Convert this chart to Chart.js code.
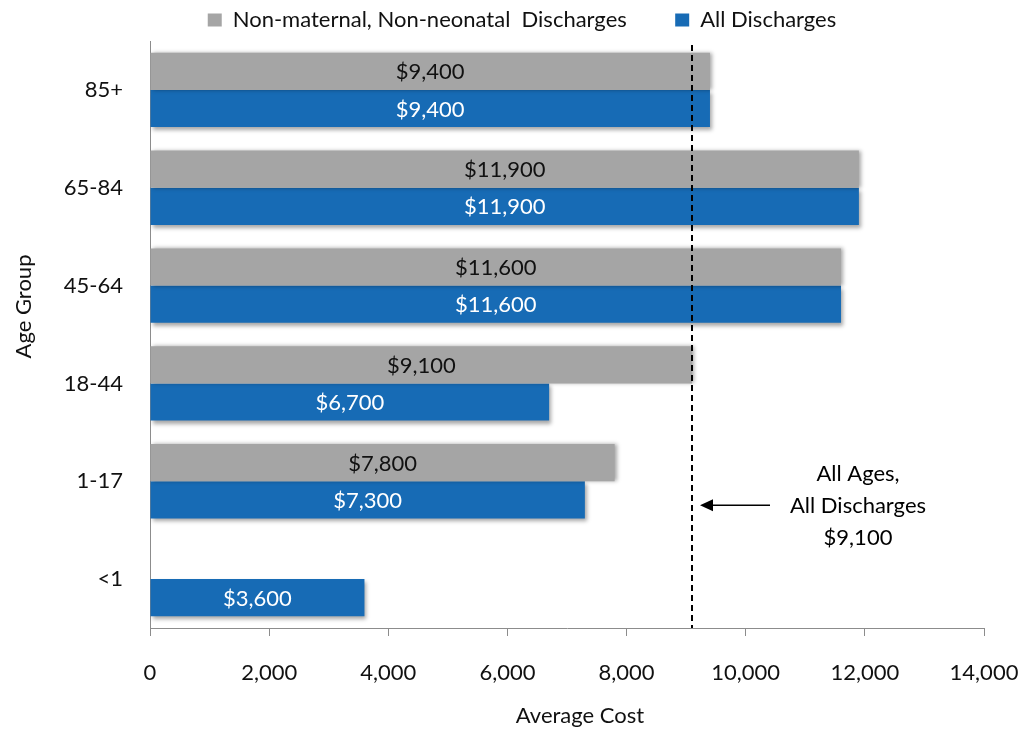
<!DOCTYPE html>
<html>
<head>
<meta charset="utf-8">
<script src="https://cdn.jsdelivr.net/npm/chart.js@4"></script>
<style>
    html, body { margin: 0; padding: 0; background: #fff; }
    #wrap { width: 1029px; height: 732px; }
</style>
</head>
<body>
<div id="wrap"><canvas id="costChart" width="1029" height="732"></canvas></div>
<script>
// Chart data
const ageGroups = ['85+', '65-84', '45-64', '18-44', '1-17', '<1'];
const nonMaternalCost = [9400, 11900, 11600, 9100, 7800, null];
const allDischargesCost = [9400, 11900, 11600, 6700, 7300, 3600];
const seriesNames = ['Non-maternal, Non-neonatal  Discharges', 'All Discharges'];
const costTicks = [0, 2000, 4000, 6000, 8000, 10000, 12000, 14000];
const overallAverage = 9100;
const overallNote = ['All Ages,', 'All Discharges', '$9,100'];
const xAxisTitle = 'Average Cost';
const yAxisTitle = 'Age Group';

const FONT = { family: 'Lato', size: 22 };
const seriesColors = ['#A5A5A5', '#176BB5'];
const labelColors = ['#111', '#fff'];

document.addEventListener('DOMContentLoaded', () => {
    // soft shadow under the bars
    const barShadow = {
        id: 'barShadow',
        beforeDatasetDraw(chart, args) {
            const ctx = chart.ctx;
            ctx.save();
            ctx.shadowColor = 'rgba(0,0,0,0.35)';
            ctx.shadowBlur = 4;
            ctx.shadowOffsetX = 2;
            ctx.shadowOffsetY = args.index === 1 ? 3 : 0;
        },
        afterDatasetDraw(chart) {
            chart.ctx.restore();
        }
    };

    // nudge the legend row to the right like the original
    const legendShift = {
        id: 'legendShift',
        afterLayout(chart) {
            chart.legend.left += 30;
            chart.legend.right += 30;
        }
    };

    // axis titles, placed slightly off-centre like the original
    const axisTitles = {
        id: 'axisTitles',
        afterDraw(chart) {
            const { ctx, chartArea } = chart;
            ctx.save();
            ctx.font = `${FONT.size}px ${FONT.family}`;
            ctx.fillStyle = '#111';
            ctx.textAlign = 'center';
            ctx.textBaseline = 'middle';
            ctx.fillText(xAxisTitle, (chartArea.left + chartArea.right) / 2 + 13, chart.height - 16);
            ctx.translate(24, (chartArea.top + chartArea.bottom) / 2 - 28);
            ctx.rotate(-Math.PI / 2);
            ctx.fillText(yAxisTitle, 0, 0);
            ctx.restore();
        }
    };

    // dashed average line + arrow note
    const averageLine = {
        id: 'averageLine',
        afterDatasetsDraw(chart) {
            const { ctx, chartArea, scales } = chart;
            const x = Math.round(scales.x.getPixelForValue(overallAverage));
            ctx.save();
            ctx.strokeStyle = '#000';
            ctx.lineWidth = 2;
            ctx.setLineDash([6, 4]);
            ctx.beginPath();
            ctx.moveTo(x, chartArea.top + 4);
            ctx.lineTo(x, chartArea.bottom);
            ctx.stroke();

            // arrow pointing at the line
            const ay = scales.y.getPixelForValue(4) + 24;
            ctx.setLineDash([]);
            ctx.lineWidth = 1.5;
            ctx.beginPath();
            ctx.moveTo(x + 78, ay);
            ctx.lineTo(x + 16, ay);
            ctx.stroke();
            ctx.fillStyle = '#000';
            ctx.beginPath();
            ctx.moveTo(x + 8, ay);
            ctx.lineTo(x + 21, ay - 6);
            ctx.lineTo(x + 21, ay + 6);
            ctx.closePath();
            ctx.fill();

            ctx.font = `${FONT.size}px ${FONT.family}`;
            ctx.textAlign = 'center';
            ctx.textBaseline = 'middle';
            overallNote.forEach((line, i) => {
                ctx.fillText(line, x + 166, ay - 31 + i * 32);
            });
            ctx.restore();
        }
    };

    // value labels in the middle of each bar
    const valueLabels = {
        id: 'valueLabels',
        afterDatasetsDraw(chart) {
            const ctx = chart.ctx;
            ctx.save();
            ctx.font = `${FONT.size}px ${FONT.family}`;
            ctx.textAlign = 'center';
            ctx.textBaseline = 'middle';
            chart.data.datasets.forEach((ds, di) => {
                const meta = chart.getDatasetMeta(di);
                meta.data.forEach((bar, i) => {
                    const v = ds.data[i];
                    if (v == null) return;
                    ctx.fillStyle = labelColors[di];
                    ctx.fillText('$' + v.toLocaleString('en-US'), (bar.base + bar.x) / 2, bar.y + 1);
                });
            });
            ctx.restore();
        }
    };

    const ctx = document.getElementById('costChart').getContext('2d');
    new Chart(ctx, {
        type: 'bar',
        data: {
            labels: ageGroups,
            datasets: [
                {
                    label: seriesNames[0],
                    data: nonMaternalCost,
                    backgroundColor: seriesColors[0],
                    borderWidth: 0
                },
                {
                    label: seriesNames[1],
                    data: allDischargesCost,
                    backgroundColor: seriesColors[1],
                    borderWidth: 0
                }
            ]
        },
        options: {
            indexAxis: 'y',
            responsive: false,
            animation: false,
            categoryPercentage: 0.76,
            barPercentage: 1.0,
            layout: { padding: { top: 0, right: 45, bottom: 0, left: 0 } },
            plugins: {
                legend: {
                    position: 'top',
                    labels: {
                        boxWidth: 14,
                        boxHeight: 13,
                        padding: 9,
                        color: '#111',
                        font: FONT,
                        generateLabels(chart) {
                            const items = Chart.defaults.plugins.legend.labels.generateLabels(chart);
                            items[0].text += ' '.repeat(7);
                            return items;
                        }
                    }
                },
                tooltip: { enabled: false }
            },
            scales: {
                x: {
                    min: 0,
                    max: 14000,
                    afterBuildTicks(scale) {
                        scale.ticks = costTicks.map(v => ({ value: v }));
                    },
                    ticks: {
                        color: '#111',
                        font: FONT,
                        padding: 24,
                        maxRotation: 0,
                        callback: v => v.toLocaleString('en-US')
                    },
                    grid: {
                        display: true,
                        drawOnChartArea: false,
                        drawTicks: true,
                        tickLength: 8,
                        color: '#8c8c8c'
                    },
                    border: { display: true, color: '#8c8c8c', width: 1 },
                    title: { display: false },
                    afterFit(scale) {
                        scale.height = 104;
                        scale.paddingLeft = 0;
                        scale.paddingRight = 0;
                    }
                },
                y: {
                    ticks: { color: '#111', font: FONT, padding: 27 },
                    grid: { display: false, drawTicks: false },
                    border: { display: true, color: '#8c8c8c', width: 1 },
                    title: { display: false },
                    afterFit(scale) { scale.width = 150; }
                }
            }
        },
        plugins: [barShadow, legendShift, axisTitles, averageLine, valueLabels]
    });
});
</script>
</body>
</html>
